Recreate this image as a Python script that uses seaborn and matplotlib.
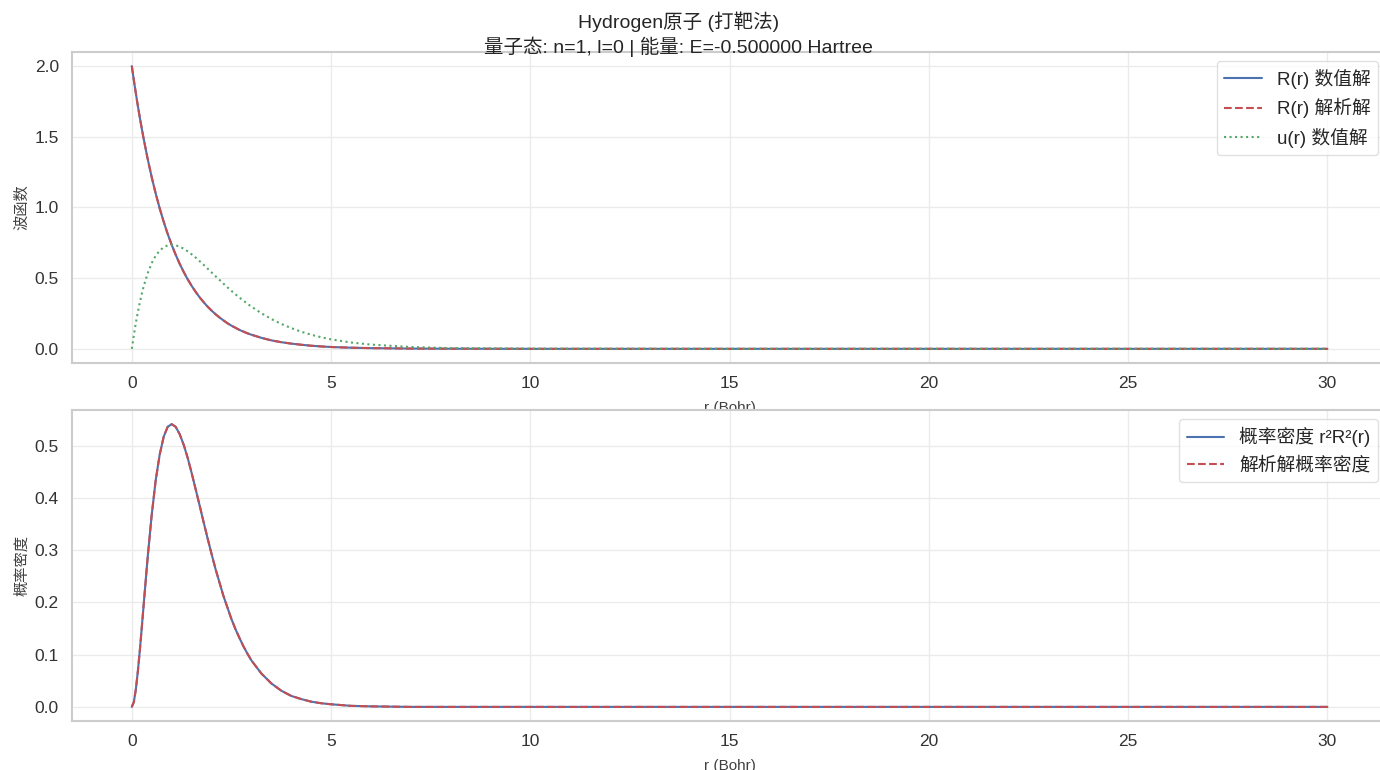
import matplotlib
matplotlib.use("Agg")
import matplotlib.pyplot as plt
import seaborn as sns

# Radial grid (Bohr)
r = [0.0, 0.05, 0.1, 0.15, 0.2, 0.25, 0.3, 0.4, 0.5, 0.6, 0.7, 0.8, 0.9,
     1.0, 1.1, 1.2, 1.3, 1.4, 1.5, 1.6, 1.7, 1.8, 1.9,
     2.0, 2.1, 2.2, 2.3, 2.4, 2.5, 2.6, 2.7, 2.8, 2.9,
     3.0,
     3.25, 3.5, 3.75, 4.0,
     4.25, 4.5, 4.75, 5.0, 5.5, 6.0,
     7.0, 8.0,
     10.0, 15.0, 20.0, 25.0, 30.0]

# Radial function R(r), shooting-method result
R_numeric = [2.000, 1.902, 1.810, 1.721, 1.637, 1.558, 1.482, 1.341, 1.213, 1.098, 0.993, 0.899, 0.813,
             0.736, 0.666, 0.602, 0.545, 0.493, 0.446, 0.404, 0.365, 0.331, 0.299,
             0.271, 0.245, 0.222, 0.201, 0.181, 0.164, 0.149, 0.134, 0.122, 0.110,
             0.100,
             0.078, 0.060, 0.047, 0.037,
             0.029, 0.022, 0.017, 0.013, 0.008, 0.005,
             0.002, 0.001,
             0.000, 0.000, 0.000, 0.000, 0.000]

# Radial function R(r), analytic
R_analytic = list(R_numeric)

# Reduced radial function u(r) = r R(r)
u_numeric = [0.000, 0.095, 0.181, 0.258, 0.327, 0.389, 0.445, 0.536, 0.607, 0.659, 0.695, 0.719, 0.732,
             0.736, 0.732, 0.723, 0.709, 0.690, 0.669, 0.646, 0.621, 0.595, 0.568,
             0.541, 0.514, 0.488, 0.461, 0.435, 0.410, 0.386, 0.363, 0.341, 0.319,
             0.299,
             0.252, 0.211, 0.176, 0.147,
             0.121, 0.100, 0.082, 0.067, 0.045, 0.030,
             0.013, 0.005,
             0.001, 0.000, 0.000, 0.000, 0.000]

# Radial probability density r^2 R^2(r)
P_numeric = [0.000, 0.009, 0.033, 0.067, 0.107, 0.152, 0.198, 0.288, 0.368, 0.434, 0.483, 0.517, 0.536,
             0.541, 0.536, 0.522, 0.502, 0.477, 0.448, 0.417, 0.386, 0.354, 0.323,
             0.293, 0.264, 0.238, 0.212, 0.190, 0.168, 0.149, 0.132, 0.116, 0.102,
             0.089,
             0.064, 0.045, 0.031, 0.021,
             0.015, 0.010, 0.007, 0.005, 0.002, 0.001,
             0.000, 0.000,
             0.000, 0.000, 0.000, 0.000, 0.000]
P_analytic = list(P_numeric)

title_lines = ["Hydrogen原子 (打靶法)", "量子态: n=1, l=0 | 能量: E=-0.500000 Hartree"]

sns.set_theme(style="whitegrid", palette="deep", color_codes=True)
plt.rcParams["font.family"] = ["Liberation Sans", "Noto Sans CJK SC", "DejaVu Sans"]
plt.rcParams["axes.unicode_minus"] = False
plt.rcParams["axes.edgecolor"] = "0.8"
plt.rcParams["grid.color"] = "0.92"

fig = plt.figure(figsize=(13.8, 7.7), dpi=100)
ax1 = fig.add_axes([0.0522, 0.5286, 0.9530, 0.4039])
ax2 = fig.add_axes([0.0522, 0.0636, 0.9530, 0.4039])

sns.lineplot(x=r, y=R_numeric, ax=ax1, color="b", linestyle="-", linewidth=1.5,
             label="R(r) 数值解")
sns.lineplot(x=r, y=R_analytic, ax=ax1, color="r", linestyle="--", linewidth=1.5,
             label="R(r) 解析解")
sns.lineplot(x=r, y=u_numeric, ax=ax1, color="g", linestyle=":", linewidth=1.5,
             label="u(r) 数值解")

sns.lineplot(x=r, y=P_numeric, ax=ax2, color="b", linestyle="-", linewidth=1.5,
             label="概率密度 r²R²(r)")
sns.lineplot(x=r, y=P_analytic, ax=ax2, color="r", linestyle="--", linewidth=1.5,
             label="解析解概率密度")

for ax, ylab in ((ax1, "波函数"), (ax2, "概率密度")):
    ax.set_xlabel("r (Bohr)", fontsize=11, color="0.25", labelpad=7)
    ax.set_ylabel(ylab, fontsize=11, color="0.25")
    ax.tick_params(labelsize=12.5, colors="0.2")
    ax.legend(loc="upper right", fontsize=13.5, framealpha=0.8, edgecolor="0.85")
    for s in ax.spines.values():
        s.set_linewidth(1.5)

ax1.set_xlim(-1.5, 31.5)
ax2.set_xlim(-1.5, 31.5)
ax1.set_yticks([0.0, 0.5, 1.0, 1.5, 2.0])
ax2.set_yticks([0.0, 0.1, 0.2, 0.3, 0.4, 0.5])

fig.suptitle("\n".join(title_lines), x=0.4915, y=0.985, va="top", fontsize=14,
             color="0.15", linespacing=1.25)

fig.savefig("out.png", dpi=100)
